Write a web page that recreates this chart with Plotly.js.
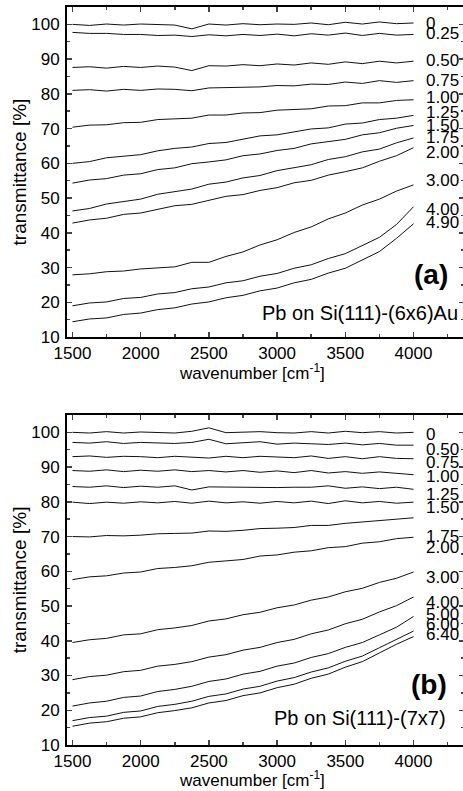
<!DOCTYPE html>
<html><head><meta charset="utf-8">
<script src="https://cdn.plot.ly/plotly-3.0.1.min.js"></script>
<style>html,body{margin:0;padding:0;overflow:hidden;background:#fff}#chart{width:480px;height:791px}</style>
</head><body><div id="chart"></div>
<script>
// wavenumber grid [cm^-1]
const wavenumber = [1500,1625,1750,1875,2000,2125,2250,2375,2500,2625,2750,2875,3000,3125,3250,3375,3500,3625,3750,3875,4000];

// Panel (a): Pb on Si(111)-(6x6)Au, transmittance [%]
const a_0    = [100.0,99.7,100.1,99.8,100.1,100.0,99.8,98.7,100.1,99.8,100.2,99.9,100.1,100.0,100.4,99.9,100.6,100.1,100.7,100.2,100.4];
const a_025  = [97.7,97.4,97.4,97.1,97.1,96.8,96.9,96.5,97.0,96.7,97.1,96.8,97.2,96.7,97.3,96.9,97.5,96.8,97.4,96.9,97.1];
const a_050  = [87.6,87.8,87.4,87.9,87.6,88.0,87.7,86.7,88.1,88.0,88.4,88.1,88.6,88.3,88.9,88.5,89.2,88.7,89.4,88.9,89.4];
const a_075  = [81.0,81.2,80.8,81.3,81.0,81.4,81.3,80.9,81.7,81.7,81.9,82.0,82.4,82.3,82.8,82.7,83.4,83.0,83.8,83.3,83.8];
const a_100  = [70.4,71.0,71.1,71.7,71.8,72.6,72.8,73.0,73.9,73.9,74.5,74.6,75.3,75.5,75.7,76.5,76.6,77.4,77.4,78.1,78.3];
const a_125  = [60.0,60.5,61.6,62.1,62.5,63.6,64.3,64.7,65.7,66.0,67.0,67.9,68.2,69.0,69.9,70.2,71.3,71.6,72.6,73.0,73.8];
const a_150  = [54.3,55.2,55.6,56.6,57.0,58.2,58.7,59.9,60.4,61.0,62.2,62.7,63.7,64.3,65.6,66.2,66.9,68.2,68.8,70.1,70.9];
const a_175  = [46.3,47.0,48.3,49.1,49.7,51.1,51.8,52.6,54.0,54.6,55.8,56.5,57.9,58.8,59.6,61.1,61.9,63.3,64.1,65.9,67.3];
const a_200  = [42.8,43.7,44.2,45.3,45.7,46.8,47.8,48.2,49.4,50.5,51.0,52.2,53.0,54.4,55.1,56.6,57.6,58.7,60.6,62.2,64.5];
const a_300  = [27.9,28.2,28.8,29.0,29.6,29.8,30.2,31.5,31.5,33.2,34.5,36.5,38.0,40.1,41.7,44.0,45.7,48.0,49.7,52.0,53.8];
const a_400  = [19.0,19.8,20.1,21.1,21.4,22.4,22.8,23.9,24.4,25.6,26.2,27.5,28.3,29.8,30.8,32.6,34.0,36.3,38.7,42.4,47.5];
const a_490  = [14.4,15.2,15.5,16.5,16.9,17.9,18.4,19.5,20.1,21.3,22.0,23.3,24.1,25.6,26.6,28.4,29.8,32.1,34.6,38.4,42.6];
const coverageA = ['0','0.25','0.50','0.75','1.00','1.25','1.50','1.75','2.00','3.00','4.00','4.90'];
const seriesA = [a_0,a_025,a_050,a_075,a_100,a_125,a_150,a_175,a_200,a_300,a_400,a_490];

// Panel (b): Pb on Si(111)-(7x7), transmittance [%]
const b_0    = [100.0,99.8,100.2,99.8,100.1,100.0,99.8,100.3,101.3,99.9,100.0,100.2,99.9,99.8,100.2,99.8,100.3,99.9,100.2,99.8,100.0];
const b_050  = [97.1,96.9,97.3,96.8,97.1,97.0,96.8,97.1,98.0,96.7,97.0,97.3,96.6,96.9,96.7,96.5,96.9,96.4,96.8,96.3,96.3];
const b_075  = [93.0,93.2,92.8,93.1,93.0,92.7,93.1,92.8,92.6,93.1,92.7,93.1,92.8,92.7,93.2,92.5,93.0,92.4,93.0,92.5,92.4];
const b_100  = [89.0,88.8,89.2,88.7,89.1,88.8,89.2,88.7,89.0,88.6,89.0,88.5,88.9,88.4,89.0,88.3,88.7,88.2,88.6,88.1,87.8];
const b_125  = [84.4,84.2,84.6,84.1,84.5,84.2,84.6,83.4,84.3,84.2,84.2,84.1,84.1,84.2,84.2,84.6,83.9,84.3,83.8,84.2,83.6];
const b_150  = [79.9,79.5,79.9,79.6,80.0,79.7,80.1,79.6,80.2,79.7,80.0,79.6,80.1,79.7,80.2,79.5,80.3,79.7,80.1,79.6,79.9];
const b_175  = [70.0,69.9,70.3,70.2,70.4,70.8,70.9,71.0,71.6,71.5,71.8,72.3,72.4,72.6,73.2,73.2,73.8,74.2,74.4,74.9,75.4];
const b_200  = [57.6,58.4,58.7,59.5,59.8,60.8,61.1,61.6,62.6,63.0,63.4,64.4,64.7,65.5,65.9,66.8,67.1,68.1,68.5,69.4,69.8];
const b_300  = [39.5,40.3,40.7,41.7,42.0,43.2,43.7,44.4,45.7,46.3,47.5,48.2,49.5,50.3,51.7,52.6,54.1,55.1,56.8,58.0,59.8];
const b_400  = [28.8,29.7,30.1,31.1,31.5,32.7,33.2,34.0,35.3,36.0,37.3,38.1,39.5,40.4,42.0,43.1,44.9,46.2,48.3,50.1,52.6];
const b_500  = [21.2,22.1,22.6,23.7,24.1,25.4,26.0,26.9,28.3,29.0,30.4,31.2,32.7,33.6,35.2,36.3,38.1,39.5,41.7,43.9,47.0];
const b_600  = [17.0,17.9,18.3,19.4,19.8,21.1,21.7,22.6,24.0,24.7,26.1,26.9,28.4,29.4,31.0,32.2,34.1,35.6,38.0,40.4,42.8];
const b_640  = [15.4,16.3,16.7,17.7,18.1,19.3,19.9,20.7,22.1,22.8,24.2,25.0,26.5,27.5,29.2,30.4,32.4,34.0,36.5,39.0,41.2];
const coverageB = ['0','0.50','0.75','1.00','1.25','1.50','1.75','2.00','3.00','4.00','5.00','6.00','6.40'];
const seriesB = [b_0,b_050,b_075,b_100,b_125,b_150,b_175,b_200,b_300,b_400,b_500,b_600,b_640];

// label placement (layout only)
const labelYA = [100.3,97.4,89.7,83.9,79.0,74.7,71.0,67.5,63.2,55.2,46.6,43.1];
const labelYB = [99.4,95.1,91.4,87.3,82.1,78.4,70.0,66.9,58.2,51.0,47.6,44.7,41.8];

const FONT = 'Arial, "Liberation Sans", sans-serif';
const traces = [];
seriesA.forEach((s,i)=>traces.push({x:wavenumber,y:s,type:'scatter',mode:'lines',name:coverageA[i],
  xaxis:'x',yaxis:'y',line:{color:'#111',width:1},hoverinfo:'x+y+name'}));
seriesB.forEach((s,i)=>traces.push({x:wavenumber,y:s,type:'scatter',mode:'lines',name:coverageB[i],
  xaxis:'x2',yaxis:'y2',line:{color:'#111',width:1},hoverinfo:'x+y+name'}));

const annotations = [];
coverageA.forEach((t,i)=>annotations.push({xref:'x',yref:'y',x:4075,y:labelYA[i],text:t,showarrow:false,
  xanchor:'left',yanchor:'middle',font:{family:FONT,size:17,color:'#000'}}));
coverageB.forEach((t,i)=>annotations.push({xref:'x2',yref:'y2',x:4075,y:labelYB[i],text:t,showarrow:false,
  xanchor:'left',yanchor:'middle',font:{family:FONT,size:17,color:'#000'}}));
annotations.push({xref:'x',yref:'y',x:4130,y:27.9,text:'<b>(a)</b>',showarrow:false,xanchor:'center',yanchor:'middle',font:{family:FONT,size:28,color:'#000'}});
annotations.push({xref:'x',yref:'y',x:4340,y:17.0,text:'Pb on Si(111)-(6x6)Au',showarrow:false,xanchor:'right',yanchor:'middle',font:{family:FONT,size:20,color:'#000'}});
annotations.push({xref:'x2',yref:'y2',x:4115,y:27.4,text:'<b>(b)</b>',showarrow:false,xanchor:'center',yanchor:'middle',font:{family:FONT,size:28,color:'#000'}});
annotations.push({xref:'x2',yref:'y2',x:4250,y:17.9,text:'Pb on Si(111)-(7x7)',showarrow:false,xanchor:'right',yanchor:'middle',font:{family:FONT,size:20,color:'#000'}});
// x-axis titles (placed as in the reference, slightly left of plot centre)
const xTitle = 'wavenumber [cm<sup>-1</sup>]';
annotations.push({xref:'paper',yref:'paper',x:0.466,y:0.505,text:xTitle,showarrow:false,xanchor:'center',yanchor:'middle',font:{family:FONT,size:17,color:'#000'}});
annotations.push({xref:'paper',yref:'paper',x:0.466,y:-0.046,text:xTitle,showarrow:false,xanchor:'center',yanchor:'middle',font:{family:FONT,size:17,color:'#000'}});

function xax(anchor){return {anchor:anchor,range:[1460,4370],tick0:1500,dtick:500,ticks:'inside',ticklen:5,tickwidth:1.5,
  minor:{ticks:'inside',dtick:250,ticklen:3,tickwidth:1.5},mirror:'ticks',showline:true,linewidth:2,linecolor:'#000',
  showgrid:false,zeroline:false,tickfont:{family:FONT,size:17,color:'#000'}};}
function yax(domain,anchor){return {domain:domain,anchor:anchor,range:[10,105],tick0:10,dtick:10,ticks:'inside',ticklen:5,tickwidth:1.5,
  minor:{ticks:'inside',dtick:5,ticklen:3,tickwidth:1.5},mirror:'ticks',showline:true,linewidth:2,linecolor:'#000',
  showgrid:false,zeroline:false,tickfont:{family:FONT,size:17,color:'#000'},ticklabelstandoff:2,
  title:{text:'transmittance [%]',font:{family:FONT,size:19,color:'#000'},standoff:0}};}

const layout = {
  width:480,height:791,margin:{l:67,r:16,t:7,b:46},paper_bgcolor:'#fff',plot_bgcolor:'#fff',showlegend:false,
  xaxis:xax('y'),yaxis:yax([0.5528,1],'x'),xaxis2:xax('y2'),yaxis2:yax([0,0.4472],'x2'),
  annotations:annotations,font:{family:FONT,color:'#000'}
};
Plotly.newPlot('chart',traces,layout,{staticPlot:true});
</script></body></html>
